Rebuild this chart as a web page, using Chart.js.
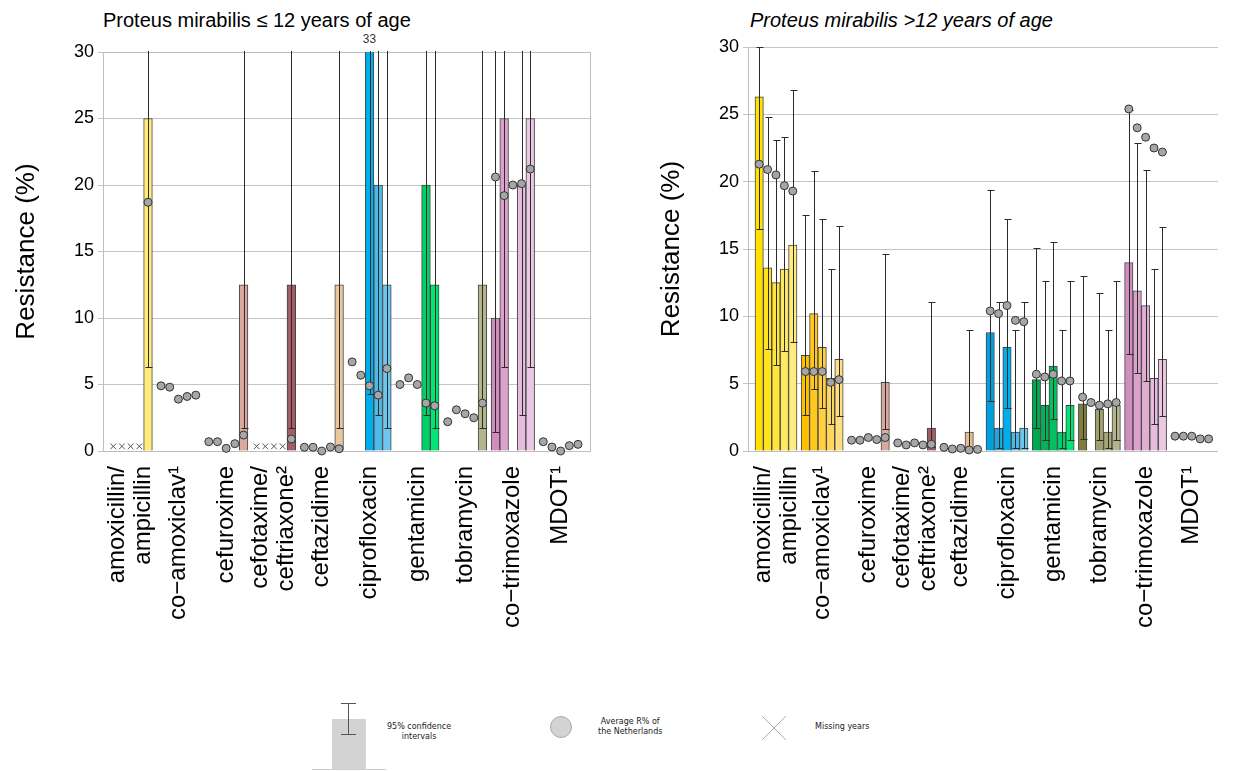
<!DOCTYPE html>
<html>
<head>
<meta charset="utf-8">
<title>Proteus mirabilis resistance</title>
<script src="https://cdn.jsdelivr.net/npm/chart.js@4.4.1/dist/chart.umd.min.js"></script>
<style>
  html, body { margin: 0; padding: 0; background: #fff; }
  body { position: relative; width: 1233px; height: 771px; overflow: hidden; font-family: 'Liberation Sans', Arial, sans-serif; }
  canvas { position: absolute; top: 0; }
  #young { left: 0; }
  #old { left: 640px; }
  .title { position: absolute; top: 10px; font-size: 20px; line-height: 20px; white-space: nowrap; color: #000; }
  .legend { position: absolute; font-family: 'DejaVu Sans', sans-serif; font-size: 8px; line-height: 10px; color: #222; text-align: center; white-space: nowrap; }
  .blk { position: absolute; }
</style>
</head>
<body>
<div class="title" style="left:103px">Proteus mirabilis ≤ 12 years of age</div>
<div class="title" style="left:750px; font-style:italic">Proteus mirabilis &gt;12 years of age</div>
<canvas id="young" width="612" height="680"></canvas>
<canvas id="old" width="593" height="680"></canvas>

<!-- legend -->
<div class="blk" style="left:312px; top:769px; width:74px; height:1px; background:#ccc"></div>
<div class="blk" style="left:332px; top:719px; width:34px; height:50px; background:#d3d3d3"></div>
<div class="blk" style="left:348px; top:703px; width:1px; height:32px; background:#555"></div>
<div class="blk" style="left:341px; top:703px; width:15px; height:1px; background:#555"></div>
<div class="blk" style="left:341px; top:734px; width:15px; height:1px; background:#555"></div>
<div class="legend" style="left:387px; top:722px">95% confidence<br>intervals</div>
<div class="blk" style="left:550px; top:716px; width:22px; height:22px; border-radius:50%; background:#d3d3d3; border:1px solid #aaa; box-sizing:border-box"></div>
<div class="legend" style="left:598px; top:717px">Average R% of<br>the Netherlands</div>
<svg class="blk" style="left:761px; top:715px" width="26" height="26"><path d="M1 1L25 25M25 1L1 25" stroke="#999" stroke-width="0.8" fill="none"/></svg>
<div class="legend" style="left:815px; top:722px">Missing years</div>

<script>
// antibiotic groups, five consecutive years each
const antibiotics = [
  ['amoxicillin/', 'ampicillin'], 'co\u2212amoxiclav\u00b9', 'cefuroxime',
  ['cefotaxime/', 'ceftriaxone\u00b2'], 'ceftazidime', 'ciprofloxacin',
  'gentamicin', 'tobramycin', 'co\u2212trimoxazole', 'MDOT\u00b9'
];
const yTicks = [0, 5, 10, 15, 20, 25, 30];

// ≤ 12 years: resistance %, 95% CI, national average, missing years
const youngRes = [
  [null, null, null, null, 25],
  [null, null, null, null, null],
  [null, null, null, null, 12.5],
  [null, null, null, null, 12.5],
  [null, null, null, null, 12.5],
  [null, null, 33, 20, 12.5],
  [null, null, null, 20, 12.5],
  [null, null, null, null, 12.5],
  [10, 25, null, 20, 25],
  [null, null, null, null, null]
];
const youngLow = [
  [null, null, null, null, 6.3],
  [null, null, null, null, null],
  [null, null, null, null, 1.7],
  [null, null, null, null, 1.7],
  [null, null, null, null, 1.7],
  [null, null, 4.3, 2.7, 1.7],
  [null, null, null, 2.7, 1.7],
  [null, null, null, null, 1.7],
  [1.4, 6.3, null, 2.7, 6.3],
  [null, null, null, null, null]
];
const youngHigh = [
  [null, null, null, null, 71],
  [null, null, null, null, null],
  [null, null, null, null, 47],
  [null, null, null, null, 47],
  [null, null, null, null, 47],
  [null, null, 79, 62, 47],
  [null, null, null, 62, 47],
  [null, null, null, null, 47],
  [40, 71, null, 62, 71],
  [null, null, null, null, null]
];
const youngAvgNL = [
  [null, null, null, null, 18.7],
  [4.9, 4.8, 3.9, 4.1, 4.2],
  [0.7, 0.7, 0.2, 0.55, 1.2],
  [null, null, null, null, 0.9],
  [0.28, 0.28, 0.0, 0.3, 0.17],
  [6.7, 5.7, 4.9, 4.2, 6.2],
  [5.0, 5.5, 5.0, 3.6, 3.4],
  [2.2, 3.1, 2.8, 2.5, 3.6],
  [20.6, 19.2, 20.0, 20.1, 21.2],
  [0.7, 0.3, 0.0, 0.4, 0.5]
];
const youngMissing = [
  [1, 1, 1, 1, 0], [0, 0, 0, 0, 0], [0, 0, 0, 0, 0], [1, 1, 1, 1, 0], [0, 0, 0, 0, 0],
  [0, 0, 0, 0, 0], [0, 0, 0, 0, 0], [0, 0, 0, 0, 0], [0, 0, 0, 0, 0], [0, 0, 0, 0, 0]
];

// > 12 years
const oldRes = [
  [26.3, 13.6, 12.5, 13.5, 15.3],
  [7.1, 10.2, 7.7, 5.4, 6.8],
  [null, null, null, null, 5.1],
  [null, null, null, null, 1.7],
  [null, null, null, 1.4, null],
  [8.8, 1.7, 7.7, 1.4, 1.7],
  [5.3, 3.4, 6.3, 1.4, 3.4],
  [3.5, null, 3.1, 1.4, 3.4],
  [14.0, 11.9, 10.8, 5.4, 6.8],
  [null, null, null, null, null]
];
const oldLow = [
  [16.5, 7.6, 6.4, 7.4, 8.1],
  [2.7, 4.6, 3.2, 2.0, 2.6],
  [null, null, null, null, 1.6],
  [null, null, null, null, 0.3],
  [null, null, null, 0.2, null],
  [3.7, 0.2, 3.2, 0.2, 0.2],
  [1.7, 0.8, 2.4, 0.2, 0.8],
  [0.9, null, 0.8, 0.2, 0.8],
  [7.2, 5.8, 5.2, 2.0, 2.6],
  [null, null, null, null, null]
];
const oldHigh = [
  [30.0, 24.8, 23.1, 23.3, 26.8],
  [17.5, 20.8, 17.2, 13.5, 16.7],
  [null, null, null, null, 14.6],
  [null, null, null, null, 11.1],
  [null, null, null, 9.0, null],
  [19.4, 11.1, 17.2, 9.0, 11.1],
  [15.1, 12.6, 15.5, 9.0, 12.6],
  [13.0, null, 11.7, 9.0, 12.6],
  [25.3, 22.9, 20.9, 13.5, 16.6],
  [null, null, null, null, null]
];
const oldAvgNL = [
  [21.3, 20.9, 20.5, 19.7, 19.3],
  [5.9, 5.9, 5.9, 5.1, 5.3],
  [0.8, 0.8, 1.0, 0.85, 1.0],
  [0.6, 0.45, 0.6, 0.45, 0.5],
  [0.27, 0.15, 0.2, 0.07, 0.12],
  [10.4, 10.2, 10.8, 9.7, 9.6],
  [5.7, 5.5, 5.7, 5.2, 5.2],
  [4.0, 3.6, 3.4, 3.5, 3.6],
  [25.4, 24.0, 23.3, 22.5, 22.2],
  [1.1, 1.1, 1.1, 0.9, 0.9]
];
const oldMissing = youngMissing.map(row => row.map(() => 0));

// year shades per antibiotic (dark -> light)
const shades = [
  ['#FFE000', '#FFE31F', '#FFE53D', '#FFE95E', '#FFEC7C'],
  ['#FFC000', '#FFC820', '#FFCF40', '#FFD75F', '#FFDF80'],
  ['#C98F84', '#CF9A8F', '#D4A499', '#D9A89E', '#D9A99E'],
  ['#8E4350', '#95495A', '#9C505F', '#A05560', '#A35B66'],
  ['#DDB07C', '#E0B684', '#E3BB8B', '#E5BE8E', '#EAC79D'],
  ['#00A0DC', '#1AAAE2', '#00AEEC', '#4DBBE8', '#6CC7EE'],
  ['#00A650', '#00B359', '#00C060', '#00D068', '#00E574'],
  ['#7E7E3C', '#909050', '#A0A06C', '#A8A876', '#B5B58D'],
  ['#D28DBF', '#DCA2CC', '#E0AED3', '#E6BCDC', '#EAC7E3'],
  ['#999999', '#999999', '#999999', '#999999', '#999999']
];

Chart.defaults.font.family = "'Liberation Sans', Arial, sans-serif";
Chart.defaults.color = '#000';

// each group takes 5 year slots plus half a slot of gap
function slotX(g, yr) { return g * 5.5 + yr; }

function buildChart(canvasId, d) {
  const bars = [], dots = [], crosses = [];
  d.res.forEach((row, g) => row.forEach((v, yr) => bars.push({ x: slotX(g, yr), y: v })));
  d.avg.forEach((row, g) => row.forEach((v, yr) => { if (v != null) dots.push({ x: slotX(g, yr), y: v }); }));
  d.missing.forEach((row, g) => row.forEach((m, yr) => { if (m) crosses.push({ x: slotX(g, yr), y: 0.35 }); }));

  // confidence intervals, value labels above the axis, optional frame
  const extras = {
    id: 'extras',
    beforeDatasetsDraw(chart) {
      if (!d.framed) return;
      const { ctx, chartArea: a } = chart;
      ctx.save();
      ctx.strokeStyle = '#BEBEBE';
      ctx.lineWidth = 1;
      ctx.strokeRect(Math.round(a.left) + 0.5, Math.round(a.top) + 0.5, Math.round(a.right - a.left), Math.round(a.bottom - a.top));
      ctx.restore();
    },
    afterDatasetDraw(chart, args) {
      if (args.meta.type !== 'bar') return;
      const { ctx, chartArea: a, scales: { x, y } } = chart;
      ctx.save();
      ctx.beginPath();
      ctx.rect(a.left, a.top - 1, a.right - a.left, a.bottom - a.top + 2);
      ctx.clip();
      ctx.strokeStyle = '#2b2b2b';
      ctx.lineWidth = 1;
      d.low.forEach((row, g) => row.forEach((lo, yr) => {
        const hi = d.high[g][yr];
        if (lo == null || hi == null) return;
        const px = Math.round(x.getPixelForValue(slotX(g, yr))) + 0.5;
        const yl = Math.round(y.getPixelForValue(lo)) + 0.5;
        const yh = Math.round(y.getPixelForValue(hi)) + 0.5;
        ctx.beginPath();
        ctx.moveTo(px, yl); ctx.lineTo(px, yh);
        ctx.moveTo(px - 3, yl); ctx.lineTo(px + 4, yl);
        ctx.moveTo(px - 3, yh); ctx.lineTo(px + 4, yh);
        ctx.stroke();
      }));
      ctx.restore();

      ctx.save();
      ctx.font = "12px 'Liberation Sans', Arial, sans-serif";
      ctx.fillStyle = '#333';
      ctx.textAlign = 'center';
      ctx.textBaseline = 'middle';
      d.res.forEach((row, g) => row.forEach((v, yr) => {
        if (v != null && v > y.max) ctx.fillText(String(v), x.getPixelForValue(slotX(g, yr)), a.top - 12);
      }));
      ctx.restore();
    }
  };

  return new Chart(document.getElementById(canvasId), {
    type: 'bar',
    data: {
      datasets: [
        {
          type: 'scatter', data: dots, clip: false,
          pointRadius: 4, pointHoverRadius: 4,
          backgroundColor: '#A6A6A6', borderColor: '#333', borderWidth: 1
        },
        {
          type: 'scatter', data: crosses, clip: false,
          pointStyle: 'crossRot', pointRadius: 4,
          borderColor: '#555', borderWidth: 1
        },
        {
          type: 'bar', data: bars,
          backgroundColor: c => shades[Math.floor(c.dataIndex / 5)][c.dataIndex % 5],
          borderColor: '#444', borderWidth: 1,
          barPercentage: 1, categoryPercentage: 1
        }
      ]
    },
    options: {
      responsive: false,
      animation: false,
      events: [],
      layout: { padding: { top: d.top, right: d.right, left: 0, bottom: 0 } },
      plugins: { legend: { display: false }, tooltip: { enabled: false } },
      scales: {
        x: {
          type: 'linear',
          offset: false,
          min: d.xMin, max: d.xMax,
          grid: { display: false, drawTicks: false },
          border: { display: true, color: '#BEBEBE' },
          afterBuildTicks: s => {
            s.ticks = antibiotics.map((lab, g) => ({ value: slotX(g, 2) - (Array.isArray(lab) ? d.lineShift : 0) }));
          },
          afterFit: s => { s.height = 229; },
          ticks: {
            autoSkip: false, minRotation: 90, maxRotation: 90, padding: 15,
            font: { size: 24, lineHeight: 1.08 },
            callback: (v, i) => antibiotics[i]
          }
        },
        y: {
          min: 0, max: 30,
          afterBuildTicks: s => { s.ticks = yTicks.map(v => ({ value: v })); },
          afterFit: s => { s.width = d.axisWidth; },
          grid: { color: '#C4C4C4', tickLength: 5 },
          border: { color: '#BEBEBE' },
          ticks: { font: { size: 18 }, padding: 4 },
          title: {
            display: true, text: 'Resistance (%)',
            font: { size: 26 }, padding: { top: d.titlePad, bottom: 0 }
          }
        }
      }
    },
    plugins: [extras]
  });
}

buildChart('young', {
  res: youngRes, low: youngLow, high: youngHigh, avg: youngAvgNL, missing: youngMissing,
  framed: true, top: 52, right: 22, axisWidth: 103, titlePad: 11,
  xMin: -1.18, xMax: 54.88, lineShift: 1.55
});
buildChart('old', {
  res: oldRes, low: oldLow, high: oldHigh, avg: oldAvgNL, missing: oldMissing,
  framed: false, top: 47, right: 1, axisWidth: 108, titlePad: 16,
  xMin: -1.33, xMax: 54.6, lineShift: 1.45
});
</script>
</body>
</html>
